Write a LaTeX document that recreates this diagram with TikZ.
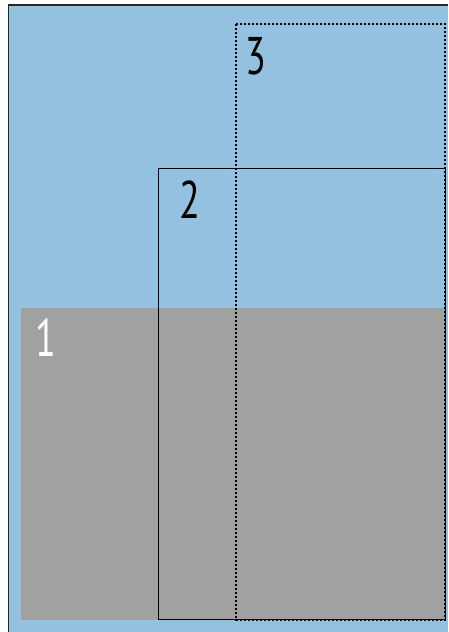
\documentclass[tikz,border=0pt]{standalone}
\usepackage{fontspec}
\setmainfont{PT Sans}
\definecolor{bgblue}{HTML}{95C1E1}
\definecolor{areagray}{HTML}{A0A1A0}
\begin{document}
\begin{tikzpicture}[x=1pt,y=-1pt,
  lbl/.style={font=\fontsize{53}{53}\selectfont, xscale=0.72, inner sep=0pt},
  frame/.style={draw=black, line width=1pt}]
\useasboundingbox (0,0) rectangle (448,632);
\fill[white] (0,0) rectangle (448,632);
\fill[bgblue] (9,5) rectangle (448,632);
\draw[line width=1.3pt, black!85] (8.5,632) -- (8.5,5) -- (448,5);
\fill[areagray] (21,308) rectangle (445,620);
\draw[frame] (158,168) rectangle (445,619);
\draw[black, line width=1.1pt, dash pattern=on 2pt off 2pt] (236,24) rectangle (445,620);
\node[lbl, text=black] (l3) at (256,56) {3};
\node[lbl, text=black] (l2) at (190,200) {2};
\node[lbl, text=white] (l1) at (46,338) {1};
\end{tikzpicture}
\end{document}
